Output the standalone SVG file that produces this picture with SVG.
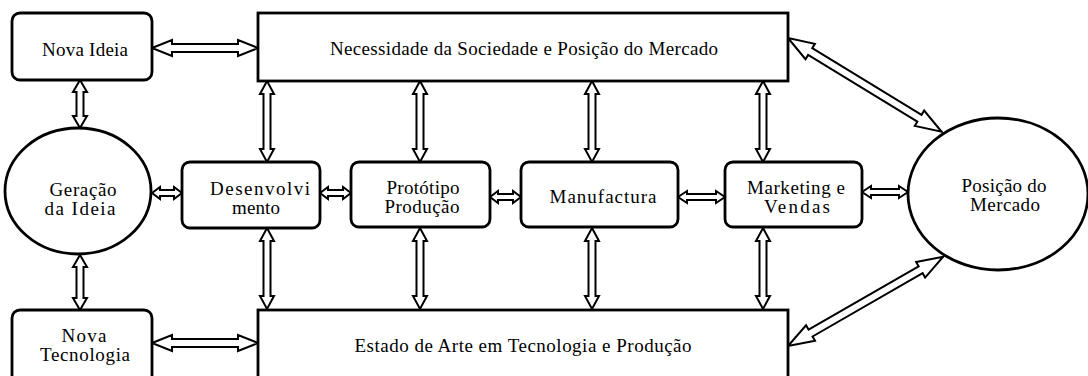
<svg xmlns="http://www.w3.org/2000/svg" width="1088" height="376" viewBox="0 0 1088 376">
<style>
.box{fill:#fff;stroke:#000;stroke-width:2.8}
.arr{fill:#fff;stroke:#000;stroke-width:2;stroke-linejoin:miter}
text{font-family:"Liberation Serif","Times New Roman",serif;font-size:19px;fill:#000;text-anchor:middle}
</style>
<rect width="1088" height="376" fill="#fff"/>
<g id="connectors">
<polygon class="arr" transform="translate(152,48)" points="0,0 20,-8 20,-4 86,-4 86,-8 106,0 86,8 86,4 20,4 20,8"/>
<polygon class="arr" transform="translate(152,343)" points="0,0 20,-8 20,-4 86,-4 86,-8 106,0 86,8 86,4 20,4 20,8"/>
<polygon class="arr" transform="translate(80,80) rotate(90)" points="0,0 12,-7 12,-3.5 36,-3.5 36,-7 48,0 36,7 36,3.5 12,3.5 12,7"/>
<polygon class="arr" transform="translate(80,255) rotate(90)" points="0,0 12,-7 12,-3.5 43,-3.5 43,-7 55,0 43,7 43,3.5 12,3.5 12,7"/>
<polygon class="arr" transform="translate(152,193)" points="0,0 8,-6 8,-3 22,-3 22,-6 30,0 22,6 22,3 8,3 8,6"/>
<polygon class="arr" transform="translate(320,193)" points="0,0 8,-6 8,-3 23,-3 23,-6 31,0 23,6 23,3 8,3 8,6"/>
<polygon class="arr" transform="translate(490,197)" points="0,0 8,-6 8,-3 23,-3 23,-6 31,0 23,6 23,3 8,3 8,6"/>
<polygon class="arr" transform="translate(678,197)" points="0,0 9,-6 9,-3 38,-3 38,-6 47,0 38,6 38,3 9,3 9,6"/>
<polygon class="arr" transform="translate(862,192)" points="0,0 9,-6 9,-3 37,-3 37,-6 46,0 37,6 37,3 9,3 9,6"/>
<polygon class="arr" transform="translate(267,81) rotate(90)" points="0,0 13,-7 13,-3.5 68,-3.5 68,-7 81,0 68,7 68,3.5 13,3.5 13,7"/>
<polygon class="arr" transform="translate(420,81) rotate(90)" points="0,0 13,-7 13,-3.5 68,-3.5 68,-7 81,0 68,7 68,3.5 13,3.5 13,7"/>
<polygon class="arr" transform="translate(592,81) rotate(90)" points="0,0 13,-7 13,-3.5 68,-3.5 68,-7 81,0 68,7 68,3.5 13,3.5 13,7"/>
<polygon class="arr" transform="translate(763,81) rotate(90)" points="0,0 13,-7 13,-3.5 68,-3.5 68,-7 81,0 68,7 68,3.5 13,3.5 13,7"/>
<polygon class="arr" transform="translate(267,228) rotate(90)" points="0,0 13,-7 13,-3.5 68,-3.5 68,-7 81,0 68,7 68,3.5 13,3.5 13,7"/>
<polygon class="arr" transform="translate(420,228) rotate(90)" points="0,0 13,-7 13,-3.5 68,-3.5 68,-7 81,0 68,7 68,3.5 13,3.5 13,7"/>
<polygon class="arr" transform="translate(592,228) rotate(90)" points="0,0 13,-7 13,-3.5 68,-3.5 68,-7 81,0 68,7 68,3.5 13,3.5 13,7"/>
<polygon class="arr" transform="translate(763,228) rotate(90)" points="0,0 13,-7 13,-3.5 68,-3.5 68,-7 81,0 68,7 68,3.5 13,3.5 13,7"/>
<polygon class="arr" transform="translate(788,38) rotate(31.4)" points="0,0 26,-9 26,-4 154,-4 154,-9 180,0 154,9 154,4 26,4 26,9"/>
<polygon class="arr" transform="translate(788,346) rotate(-29.9)" points="0,0 26,-9 26,-4 153,-4 153,-9 179,0 153,9 153,4 26,4 26,9"/>
</g>
<g id="nova-ideia">
<rect class="box" x="12" y="13" width="140" height="67" rx="8"/>
<text x="85" y="56" textLength="86" lengthAdjust="spacing">Nova Ideia</text>
</g>
<g id="necessidade">
<rect class="box" x="258" y="13" width="530" height="68"/>
<text x="524" y="55" textLength="388" lengthAdjust="spacing">Necessidade da Sociedade e Posição do Mercado</text>
</g>
<g id="geracao">
<ellipse class="box" cx="78" cy="191" rx="73" ry="63"/>
<text x="83" y="196" textLength="67" lengthAdjust="spacing">Geração</text>
<text x="80" y="215" textLength="71" lengthAdjust="spacing">da Ideia</text>
</g>
<g id="desenvolvimento">
<rect class="box" x="182" y="162" width="138" height="66" rx="8"/>
<text x="260" y="195" textLength="100" lengthAdjust="spacing">Desenvolvi</text>
<text x="256" y="214" textLength="48" lengthAdjust="spacing">mento</text>
</g>
<g id="prototipo">
<rect class="box" x="351" y="162" width="139" height="65" rx="8"/>
<text x="423" y="194" textLength="73" lengthAdjust="spacing">Protótipo</text>
<text x="422" y="213" textLength="75" lengthAdjust="spacing">Produção</text>
</g>
<g id="manufactura">
<rect class="box" x="521" y="162" width="157" height="65" rx="8"/>
<text x="603" y="203" textLength="107" lengthAdjust="spacing">Manufactura</text>
</g>
<g id="marketing">
<rect class="box" x="725" y="162" width="137" height="65" rx="8"/>
<text x="796" y="194" textLength="98" lengthAdjust="spacing">Marketing e</text>
<text x="797" y="213" textLength="66" lengthAdjust="spacing">Vendas</text>
</g>
<g id="posicao-mercado">
<ellipse class="box" cx="998" cy="194" rx="90" ry="76"/>
<text x="1004" y="192" textLength="85" lengthAdjust="spacing">Posição do</text>
<text x="1005" y="211" textLength="70" lengthAdjust="spacing">Mercado</text>
</g>
<g id="nova-tecnologia">
<rect class="box" x="12" y="310" width="140" height="76" rx="8"/>
<text x="84" y="342" textLength="45" lengthAdjust="spacing">Nova</text>
<text x="85" y="361" textLength="90" lengthAdjust="spacing">Tecnologia</text>
</g>
<g id="estado-arte">
<rect class="box" x="258" y="310" width="530" height="76"/>
<text x="523" y="352" textLength="337" lengthAdjust="spacing">Estado de Arte em Tecnologia e Produção</text>
</g>
</svg>
